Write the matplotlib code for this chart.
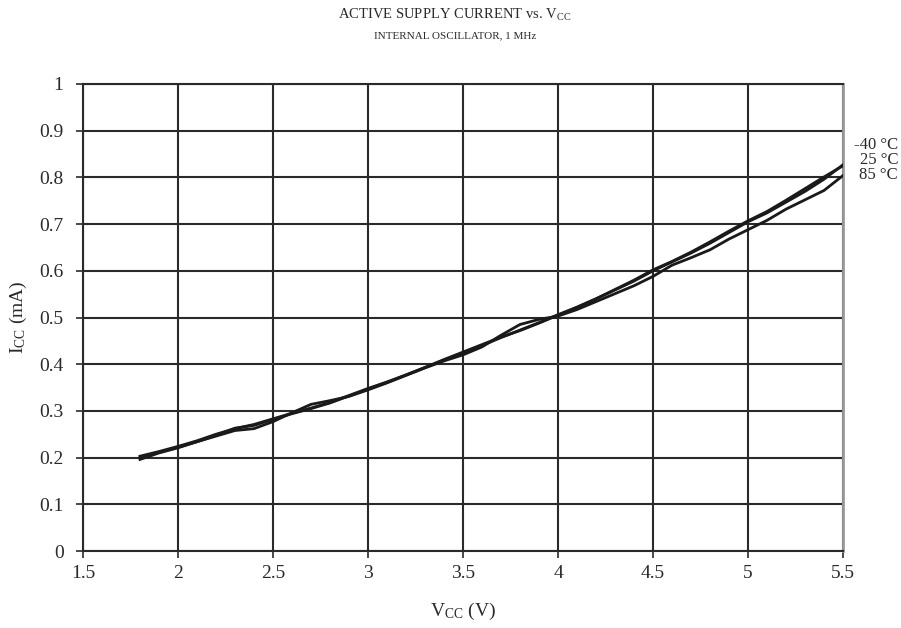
import matplotlib
matplotlib.use("Agg")
import matplotlib.pyplot as plt
import numpy as np

plt.rcParams['font.family'] = ['Liberation Serif', 'DejaVu Serif']
plt.rcParams['mathtext.default'] = 'regular'

# supply voltage (V)
vcc = [1.8, 1.9, 2.0, 2.1, 2.2, 2.3, 2.4, 2.5, 2.6, 2.7, 2.8, 2.9, 3.0, 3.1, 3.2, 3.3, 3.4, 3.5, 3.6,
       3.7, 3.8, 3.9, 4.0, 4.1, 4.2, 4.3, 4.4, 4.5, 4.6, 4.7, 4.8, 4.9, 5.0, 5.1, 5.2, 5.3, 5.4, 5.5]

# active supply current (mA)
icc_m40 = [0.203, 0.213, 0.224, 0.236, 0.250, 0.262, 0.271, 0.283, 0.295, 0.306, 0.318, 0.333, 0.348,
           0.362, 0.377, 0.393, 0.410, 0.426, 0.442, 0.458, 0.472, 0.488, 0.505, 0.522, 0.540, 0.559,
           0.578, 0.600, 0.619, 0.638, 0.659, 0.682, 0.705, 0.724, 0.747, 0.770, 0.796, 0.827]
icc_25 = [0.200, 0.211, 0.222, 0.234, 0.248, 0.263, 0.269, 0.282, 0.294, 0.305, 0.317, 0.332, 0.347,
          0.361, 0.377, 0.393, 0.409, 0.424, 0.440, 0.457, 0.473, 0.489, 0.506, 0.522, 0.540, 0.560,
          0.580, 0.602, 0.620, 0.640, 0.662, 0.685, 0.707, 0.727, 0.751, 0.776, 0.801, 0.825]
icc_85 = [0.196, 0.210, 0.221, 0.234, 0.246, 0.258, 0.262, 0.277, 0.296, 0.314, 0.322, 0.331, 0.345,
          0.360, 0.376, 0.392, 0.407, 0.420, 0.437, 0.462, 0.485, 0.496, 0.503, 0.517, 0.534, 0.551,
          0.568, 0.588, 0.612, 0.628, 0.645, 0.668, 0.688, 0.708, 0.732, 0.752, 0.772, 0.804]

labels = ['-40 °C', '25 °C', '85 °C']

W, H = 901, 628
fig = plt.figure(figsize=(W / 100, H / 100), dpi=100)
ax = fig.add_axes([83 / W, (H - 551) / H, 760 / W, 467 / H])

for y in [icc_m40, icc_25, icc_85]:
    ax.plot(vcc, y, color='#1a1a1a', lw=2, zorder=3, solid_joinstyle='round')

ax.set_xlim(1.5, 5.5)
ax.set_ylim(0, 1)
ax.set_xticks(np.arange(1.5, 5.51, 0.5))
ax.set_xticklabels(['1.5', '2', '2.5', '3', '3.5', '4', '4.5', '5', '5.5'])
ax.set_yticks(np.arange(0, 1.01, 0.1))
ax.set_yticklabels(['0', '0.1', '0.2', '0.3', '0.4', '0.5', '0.6', '0.7', '0.8', '0.9', '1'])
ax.grid(True, color='#2a2a2a', lw=1.5)
ax.tick_params(labelsize=14, length=5, width=1.2, colors='#2a2a2a', labelcolor='#2a2a2a')
ax.tick_params(axis='y', pad=9)
ax.tick_params(axis='x', pad=5)
for s in ['left', 'bottom', 'top']:
    ax.spines[s].set_color('#2a2a2a')
    ax.spines[s].set_linewidth(1.5)
ax.spines['right'].set_color('#9a9a9a')
ax.spines['right'].set_linewidth(2)

ax.set_xlabel('V$_{CC}$ (V)', fontsize=14, color='#2a2a2a', labelpad=14)
ax.set_ylabel('I$_{CC}$ (mA)', fontsize=14, color='#2a2a2a', labelpad=7)

fig.text(455 / W, 1 - 15 / H, 'ACTIVE SUPPLY CURRENT vs. V$_{CC}$', ha='center', va='center',
         fontsize=10.5, color='#2a2a2a')
fig.text(455 / W, 1 - 36 / H, 'INTERNAL OSCILLATOR, 1 MHz', ha='center', va='center',
         fontsize=8, color='#2a2a2a')

for i, lab in enumerate(labels):
    fig.text(898 / W, 1 - (145 + 15 * i) / H, lab, ha='right', va='center',
             fontsize=12, color='#2a2a2a')

fig.savefig('out.png', dpi=100)
